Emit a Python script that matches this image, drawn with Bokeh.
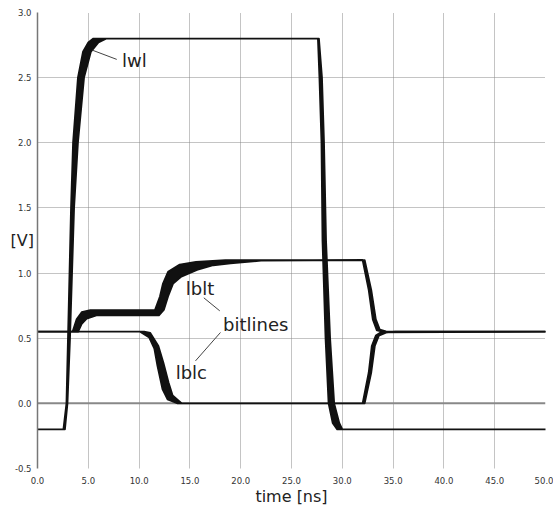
from bokeh.plotting import figure
from bokeh.models import FixedTicker, NumeralTickFormatter, Span, Label
from bokeh.embed import file_html
from bokeh.resources import INLINE

# ---- data ----
# word line lwl: early (left) and late (right) edge of the Monte-Carlo band
wl_t_early = [0.0, 2.55, 2.85, 3.0, 3.3, 3.5, 3.98, 4.48, 5.0, 5.5,
              27.6, 27.75, 27.95, 28.05, 28.35, 28.65, 29.05, 29.5, 50.0]
wl_v_early = [-0.2, -0.2, 0.0, 0.5, 1.5, 2.0, 2.5, 2.7, 2.77, 2.8,
              2.8, 2.5, 2.0, 1.25, 0.5, 0.0, -0.15, -0.2, -0.2]
wl_t_late = [0.0, 2.7, 2.95, 3.2, 3.6, 3.98, 4.58, 5.26, 6.0, 6.8,
             27.7, 28.0, 28.2, 28.4, 28.8, 29.2, 29.7, 30.0, 50.0]
wl_v_late = [-0.2, -0.2, 0.0, 0.5, 1.5, 2.0, 2.5, 2.7, 2.77, 2.8,
             2.8, 2.5, 2.0, 1.25, 0.5, 0.0, -0.15, -0.2, -0.2]

# true bitline lblt
blt_t_early = [0.0, 3.45, 3.85, 4.35, 5.2, 11.55, 12.05, 12.35, 12.85, 14.0,
               15.6, 18.5, 32.0, 32.6, 33.0, 33.4, 34.0, 50.0]
blt_v_early = [0.55, 0.55, 0.645, 0.70, 0.715, 0.715, 0.82, 0.92, 1.01, 1.065,
               1.085, 1.1, 1.1, 0.87, 0.645, 0.56, 0.55, 0.55]
blt_t_late = [0.0, 4.0, 4.35, 4.84, 5.8, 11.95, 12.45, 12.85, 13.35, 14.1,
              15.7, 17.3, 19.0, 22.0, 32.2, 32.85, 33.3, 33.7, 34.3, 35.2, 50.0]
blt_v_late = [0.55, 0.55, 0.61, 0.65, 0.675, 0.675, 0.72, 0.82, 0.92, 0.97,
              1.025, 1.06, 1.075, 1.095, 1.1, 0.87, 0.645, 0.565, 0.553, 0.55, 0.55]

# complementary bitline lblc
blc_t_early = [0.0, 10.1, 11.0, 11.5, 11.8, 12.3, 12.8, 13.8,
               32.0, 32.6, 32.9, 33.3, 33.8, 50.0]
blc_v_early = [0.55, 0.55, 0.505, 0.42, 0.29, 0.11, 0.03, 0.0,
               0.0, 0.237, 0.44, 0.52, 0.545, 0.55]
blc_t_late = [0.0, 10.5, 11.1, 11.9, 12.4, 12.9, 13.3, 14.2,
              32.2, 32.85, 33.2, 33.6, 34.3, 35.2, 50.0]
blc_v_late = [0.55, 0.55, 0.54, 0.44, 0.31, 0.16, 0.06, 0.0,
              0.0, 0.237, 0.44, 0.52, 0.543, 0.55, 0.55]

x_ticks = [0, 5, 10, 15, 20, 25, 30, 35, 40, 45, 50]
y_ticks = [-0.5, 0.0, 0.5, 1.0, 1.5, 2.0, 2.5, 3.0]

# annotation texts and their leader lines
label_texts = ["lwl", "lblt", "bitlines", "lblc"]
label_x = [8.32, 14.6, 18.26, 13.6]
label_y = [2.63, 0.885, 0.607, 0.237]
leader_x0 = [5.43, 16.37, 15.55]
leader_y0 = [2.71, 0.81, 0.326]
leader_x1 = [7.80, 17.94, 18.01]
leader_y1 = [2.64, 0.71, 0.544]

FONT = "DejaVu Sans"

p = figure(width=553, height=508, x_range=(0, 50), y_range=(-0.5, 3.0),
           output_backend="svg", toolbar_location=None,
           min_border_left=37, min_border_right=8, min_border_top=12,
           min_border_bottom=39)
p.outline_line_color = None
p.background_fill_color = "white"
p.border_fill_color = "white"

# axes
p.xaxis.ticker = FixedTicker(ticks=x_ticks)
p.yaxis.ticker = FixedTicker(ticks=y_ticks)
p.xaxis.formatter = NumeralTickFormatter(format="0.0")
p.yaxis.formatter = NumeralTickFormatter(format="0.0")
for ax in (p.xaxis, p.yaxis):
    ax.major_tick_line_color = None
    ax.minor_tick_line_color = None
    ax.major_tick_out = 0
    ax.major_tick_in = 0
    ax.major_label_text_font = FONT
    ax.major_label_text_font_size = "8.5px"
    ax.major_label_text_color = "#333333"
    ax.axis_label_text_font = FONT
    ax.axis_label_text_font_size = "16px"
    ax.axis_label_text_font_style = "normal"
    ax.axis_label_text_color = "#222222"
p.xaxis.axis_line_color = None
p.xaxis.major_label_standoff = 8
p.xaxis.axis_label = "time [ns]"
p.xaxis.axis_label_standoff = 0
p.yaxis.axis_line_color = "#777777"
p.yaxis.axis_line_width = 1.5
p.yaxis.major_label_standoff = 6
p.yaxis.axis_label = "[V]"
p.yaxis.axis_label_orientation = "horizontal"
p.yaxis.axis_label_standoff = -22

# grid
for g in (p.xgrid, p.ygrid):
    g.grid_line_color = "#888888"
    g.grid_line_dash = "1 1"
    g.grid_line_width = 1
p.xgrid.ticker = FixedTicker(ticks=x_ticks)
p.ygrid.ticker = FixedTicker(ticks=y_ticks)

# zero line
p.add_layout(Span(location=0, dimension="width", line_color="#888888",
                  line_width=2, level="underlay"))

# signal bands
for te, ve, tl, vl in ((wl_t_early, wl_v_early, wl_t_late, wl_v_late),
                       (blt_t_early, blt_v_early, blt_t_late, blt_v_late),
                       (blc_t_early, blc_v_early, blc_t_late, blc_v_late)):
    p.patch(te + tl[::-1], ve + vl[::-1], fill_color="#111111",
            line_color="#111111", line_width=1.8, line_join="round")

# leader lines
p.segment(leader_x0, leader_y0, leader_x1, leader_y1,
          line_color="#444444", line_width=1)

# text labels
for txt, lx, ly in zip(label_texts, label_x, label_y):
    p.add_layout(Label(x=lx, y=ly, text=txt, text_font=FONT,
                       text_font_size="18px", text_color="#222222",
                       text_align="left", text_baseline="middle"))

open("out.html", "w").write(file_html(p, INLINE))
